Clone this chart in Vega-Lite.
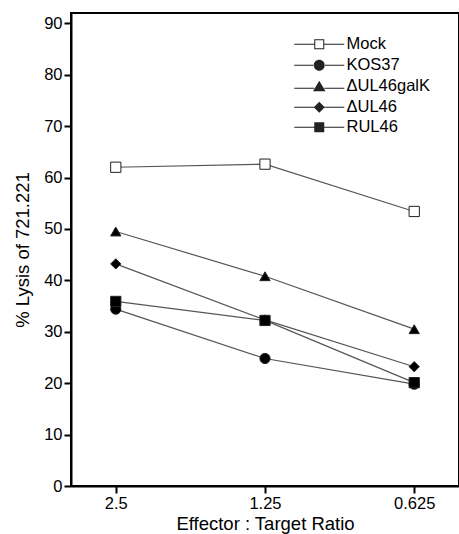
{
  "$schema": "https://vega.github.io/schema/vega-lite/v6.json",
  "width": 388,
  "height": 473,
  "autosize": "none",
  "padding": {"left": 71, "top": 13, "right": 0, "bottom": 48},
  "background": "white",
  "config": {
    "font": "Liberation Sans",
    "view": {"stroke": "black", "strokeWidth": 2},
    "axis": {
      "domainColor": "black", "domainWidth": 2, "tickColor": "black", "tickWidth": 2, "tickSize": 7,
      "labelFont": "Liberation Sans", "labelFontSize": 16.5, "labelColor": "black",
      "titleFont": "Liberation Sans", "titleFontSize": 18.5, "titleFontWeight": "normal", "titleColor": "black",
      "grid": false
    }
  },
  "data": {
    "values": [
      {"series": "Mock", "ratio": "2.5", "lysis": 62.0},
      {"series": "Mock", "ratio": "1.25", "lysis": 62.6},
      {"series": "Mock", "ratio": "0.625", "lysis": 53.4},
      {"series": "KOS37", "ratio": "2.5", "lysis": 34.4},
      {"series": "KOS37", "ratio": "1.25", "lysis": 24.8},
      {"series": "KOS37", "ratio": "0.625", "lysis": 19.8},
      {"series": "ΔUL46galK", "ratio": "2.5", "lysis": 49.5},
      {"series": "ΔUL46galK", "ratio": "1.25", "lysis": 40.8},
      {"series": "ΔUL46galK", "ratio": "0.625", "lysis": 30.5},
      {"series": "ΔUL46", "ratio": "2.5", "lysis": 43.2},
      {"series": "ΔUL46", "ratio": "1.25", "lysis": 32.3},
      {"series": "ΔUL46", "ratio": "0.625", "lysis": 23.2},
      {"series": "RUL46", "ratio": "2.5", "lysis": 35.9},
      {"series": "RUL46", "ratio": "1.25", "lysis": 32.2},
      {"series": "RUL46", "ratio": "0.625", "lysis": 20.1}
    ]
  },
  "encoding": {
    "x": {
      "field": "ratio", "type": "ordinal", "sort": ["2.5", "1.25", "0.625"],
      "scale": {"type": "point", "padding": 0.3},
      "axis": {"title": "Effector : Target Ratio", "labelAngle": 0, "labelPadding": 2, "titlePadding": 3}
    },
    "y": {
      "field": "lysis", "type": "quantitative",
      "scale": {"domain": [0, 92], "nice": false, "zero": true},
      "axis": {"title": "% Lysis of 721.221", "values": [0, 10, 20, 30, 40, 50, 60, 70, 80, 90], "labelPadding": 2, "titlePadding": 11}
    }
  },
  "resolve": {"scale": {"shape": "independent"}, "legend": {"shape": "independent"}},
  "layer": [
    {
      "mark": {"type": "line", "color": "#555", "strokeWidth": 1.2},
      "encoding": {"detail": {"field": "series"}}
    },
    {
      "mark": {"type": "point", "filled": true, "opacity": 1, "size": 105, "stroke": "#222", "strokeWidth": 1},
      "encoding": {
        "shape": {
          "field": "series", "type": "nominal",
          "scale": {"domain": ["Mock", "KOS37", "ΔUL46galK", "ΔUL46", "RUL46"], "range": ["square", "circle", "triangle-up", "diamond", "square"]},
          "legend": null
        },
        "fill": {
          "field": "series", "type": "nominal",
          "scale": {"domain": ["Mock", "KOS37", "ΔUL46galK", "ΔUL46", "RUL46"], "range": ["white", "black", "black", "black", "black"]},
          "legend": null
        }
      }
    },
    {
      "mark": {"type": "point", "filled": true, "opacity": 0, "size": 100, "color": "#222"},
      "encoding": {
        "shape": {
          "field": "series", "type": "nominal",
          "scale": {"domain": ["Mock", "KOS37", "ΔUL46galK", "ΔUL46", "RUL46"], "range": [
            "M-5,-0.1H-1V0.1H-5ZM1,-0.1H5V0.1H1ZM-1,-1H1V1H-1ZM-0.8,-0.8V0.8H0.8V-0.8Z",
            "M-5,-0.1H-1V0.1H-5ZM1,-0.1H5V0.1H1ZM-1.1,0A1.1,1.1,0,1,0,1.1,0A1.1,1.1,0,1,0,-1.1,0Z",
            "M-5,0.3H-1V0.5H-5ZM1,0.3H5V0.5H1ZM0,-1.1L1.25,1H-1.25Z",
            "M-5,-0.1H-1V0.1H-5ZM1,-0.1H5V0.1H1ZM0,-1.1L1.1,0L0,1.1L-1.1,0Z",
            "M-5,-0.1H-1V0.1H-5ZM1,-0.1H5V0.1H1ZM-1,-1H1V1H-1Z"
          ]},
          "legend": {
            "title": null, "orient": "none", "legendX": 240, "legendY": 23,
            "padding": 0, "symbolOffset": 0, "labelOffset": 19, "rowPadding": 3,
            "symbolOpacity": 1, "symbolSize": 100,
            "labelFont": "Liberation Sans", "labelFontSize": 16.5, "labelColor": "black"
          }
        }
      }
    }
  ]
}
